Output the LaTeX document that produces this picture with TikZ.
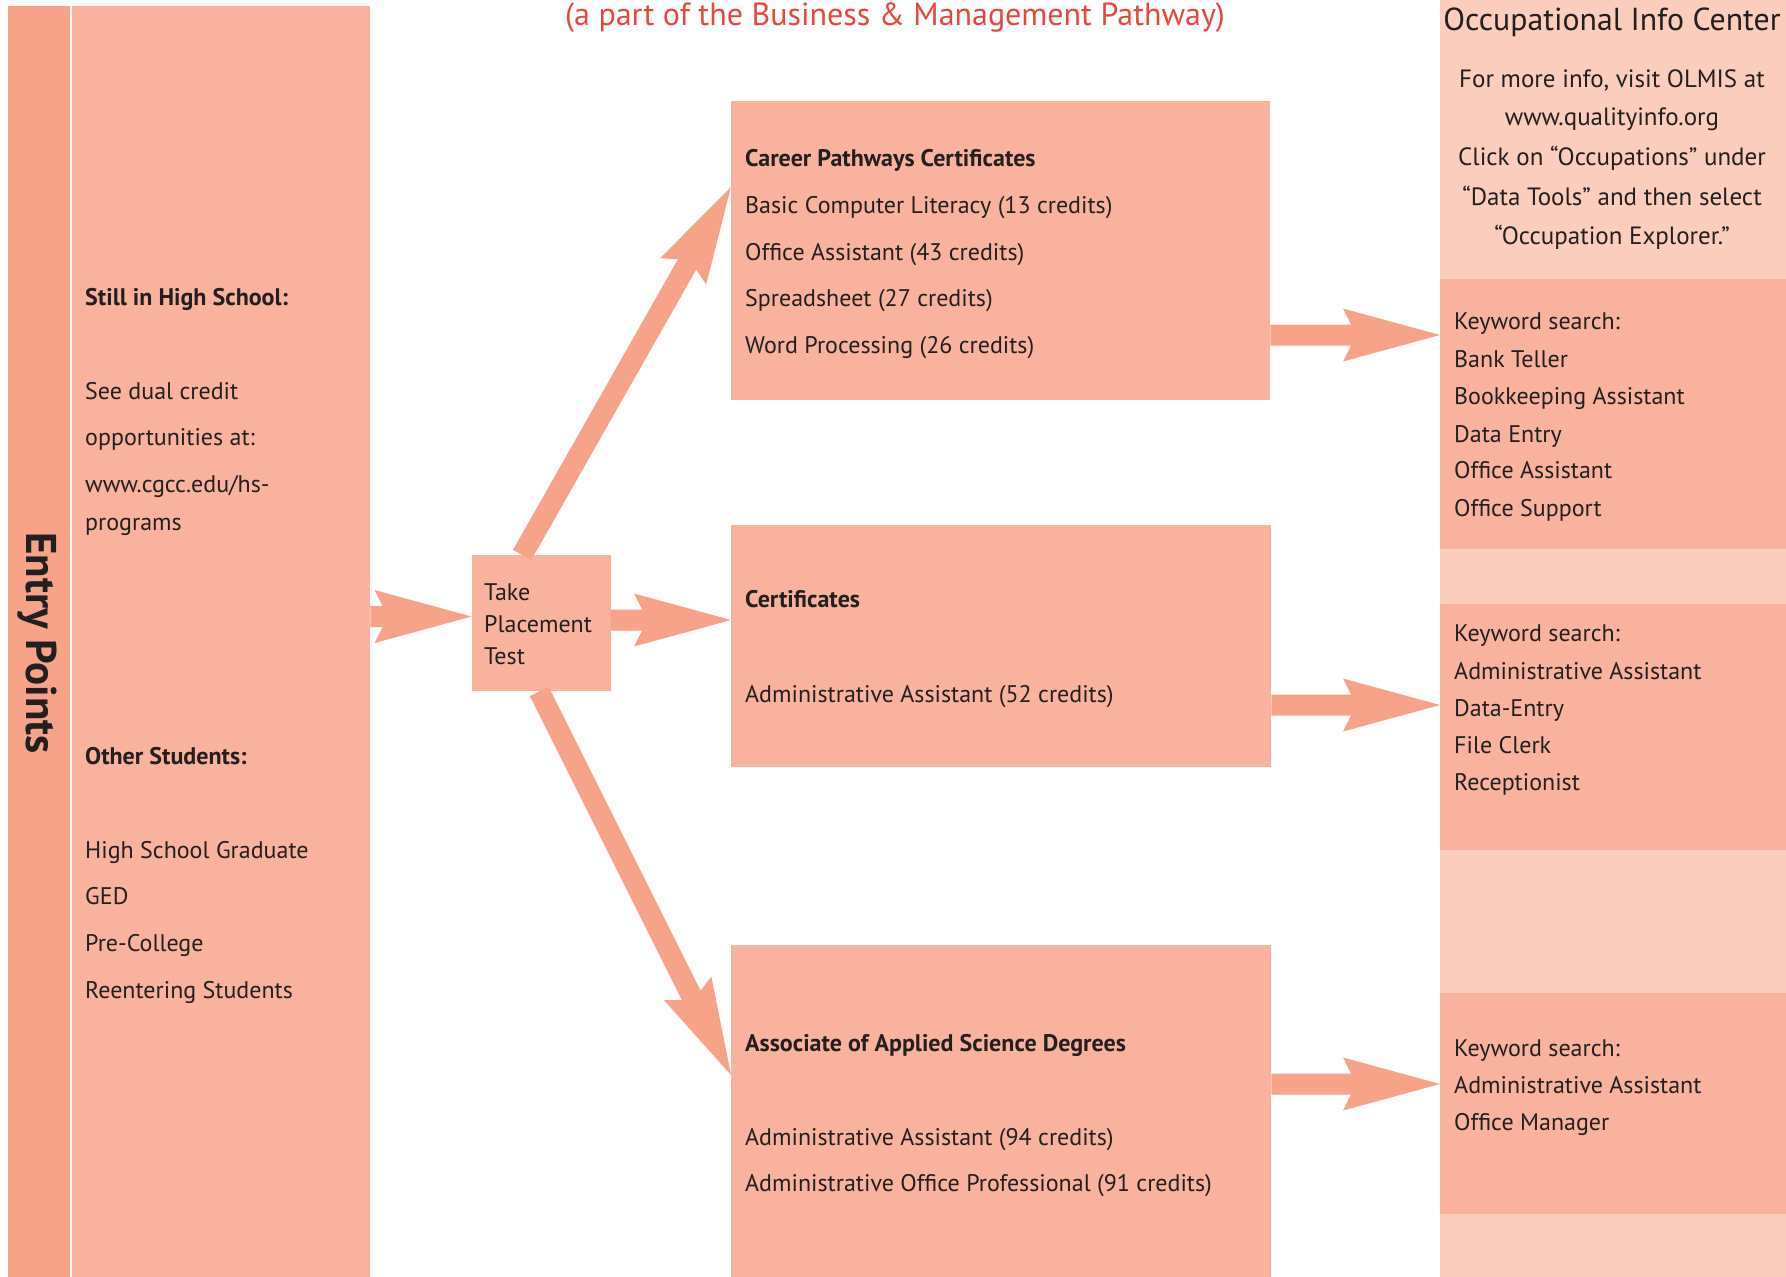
\documentclass[tikz,border=0pt]{standalone}
\usepackage{fontspec}
\setmainfont{PT Sans}
\usetikzlibrary{calc}
\definecolor{arrowc}{HTML}{F6A38A}
\definecolor{boxc}{HTML}{F8B29E}
\definecolor{lightc}{HTML}{FBCDBC}
\definecolor{redc}{HTML}{E8473C}
\definecolor{textc}{HTML}{231F20}
\newcommand\bodyf{\fontsize{24}{29}\selectfont}
\newcommand\parf{\fontsize{25}{30}\selectfont}
\newcommand\titlef{\fontsize{32}{38}\selectfont}
\newcommand\oicf{\fontsize{31.8}{36}\selectfont}
\newcommand\entryf{\fontsize{43}{50}\selectfont\bfseries}
\newcommand\fatarrow[2]{%
  \fill[arrowc] ($(#1)!10.5pt!90:(#2)$) -- ($(#2)!89pt!(#1)!10.5pt!90:(#2)$)
    -- ($(#2)!97pt!(#1)!26.5pt!90:(#2)$) -- (#2)
    -- ($(#2)!97pt!(#1)!26.5pt!-90:(#2)$) -- ($(#2)!89pt!(#1)!10.5pt!-90:(#2)$)
    -- ($(#1)!10.5pt!-90:(#2)$) -- cycle;}
\tikzset{
  panelbox/.style={fill=boxc, draw=none, inner sep=0pt, anchor=north west},
  txt/.style={anchor=base west, inner sep=0pt, text=textc, font=\bodyf},
  btxt/.style={txt, font=\bodyf\bfseries},
  ctxt/.style={anchor=base, inner sep=0pt, text=textc, font=\parf},
}
\begin{document}
\begin{tikzpicture}[x=1pt,y=-1pt]
\fill[white] (0,0) rectangle (1786,1277);
\useasboundingbox (0,0) rectangle (1786,1277);
% left column
\node[fill=arrowc, inner sep=0pt, anchor=north west, minimum width=61.5pt, minimum height=1271pt] (strip) at (8,6) {};
\node[rotate=-90, font=\entryf, text=textc, inner sep=0pt] (entry) at (37.5,643) {Entry Points};
\node[panelbox, minimum width=298pt, minimum height=1271pt] (panel) at (72,6) {};
% middle
\node[panelbox, minimum width=139pt, minimum height=136pt] (take) at (471.5,555) {};
\node[panelbox, minimum width=539pt, minimum height=299pt] (box1) at (731,101) {};
\node[panelbox, minimum width=540pt, minimum height=242pt] (box2) at (731,525) {};
\node[panelbox, minimum width=540pt, minimum height=332pt] (box3) at (731,945) {};
% right column
\node[fill=lightc, inner sep=0pt, anchor=north west, minimum width=346pt, minimum height=1277pt] (occ) at (1440,0) {};
\node[panelbox, minimum width=346pt, minimum height=270pt] (kw1) at (1440,279) {};
\node[panelbox, minimum width=346pt, minimum height=246pt] (kw2) at (1440,604) {};
\node[panelbox, minimum width=346pt, minimum height=221pt] (kw3) at (1440,993) {};
% title
\node[anchor=base, inner sep=0pt, text=redc, font=\titlef] (title) at (895,25) {(a part of the Business \& Management Pathway)};
% left panel text
\node[btxt] (t1) at (85,305) {Still in High School:};
\node[txt] (t2) at (85,399) {See dual credit};
\node[txt] (t3) at (85,445) {opportunities at:};
\node[txt] (t4) at (85,492) {www.cgcc.edu/hs-};
\node[txt] (t5) at (85,530) {programs};
\node[btxt] (t6) at (85,764) {Other Students:};
\node[txt] (t7) at (85,858) {High School Graduate};
\node[txt] (t8) at (85,904) {GED};
\node[txt] (t9) at (85,951) {Pre-College};
\node[txt] (t10) at (85,998) {Reentering Students};
% take
\node[txt] (k1) at (484,600) {Take};
\node[txt] (k2) at (484,632) {Placement};
\node[txt] (k3) at (484,664) {Test};
% box1
\node[btxt] (b11) at (745,166) {Career Pathways Certificates};
\node[txt] (b12) at (745,213) {Basic Computer Literacy (13 credits)};
\node[txt] (b13) at (745,260) {Office Assistant (43 credits)};
\node[txt] (b14) at (745,306) {Spreadsheet (27 credits)};
\node[txt] (b15) at (745,353) {Word Processing (26 credits)};
% box2
\node[btxt] (b21) at (745,607) {Certificates};
\node[txt] (b22) at (745,702) {Administrative Assistant (52 credits)};
% box3
\node[btxt] (b31) at (745,1051) {Associate of Applied Science Degrees};
\node[txt] (b32) at (745,1145) {Administrative Assistant (94 credits)};
\node[txt] (b33) at (745,1191) {Administrative Office Professional (91 credits)};
% right column text
\node[anchor=base, inner sep=0pt, text=textc, font=\oicf] (oict) at (1612,30) {Occupational Info Center};
\node[ctxt] (o1) at (1612,87) {For more info, visit OLMIS at};
\node[ctxt] (o2) at (1612,125) {www.qualityinfo.org};
\node[ctxt] (o3) at (1612,165) {Click on “Occupations” under};
\node[ctxt] (o4) at (1612,205) {“Data Tools” and then select};
\node[ctxt] (o5) at (1612,244) {“Occupation Explorer.”};
\node[txt] (w11) at (1454,329) {Keyword search:};
\node[txt] (w12) at (1454,367) {Bank Teller};
\node[txt] (w13) at (1454,404) {Bookkeeping Assistant};
\node[txt] (w14) at (1454,442) {Data Entry};
\node[txt] (w15) at (1454,478) {Office Assistant};
\node[txt] (w16) at (1454,516) {Office Support};
\node[txt] (w21) at (1454,641) {Keyword search:};
\node[txt] (w22) at (1454,679) {Administrative Assistant};
\node[txt] (w23) at (1454,716) {Data-Entry};
\node[txt] (w24) at (1454,753) {File Clerk};
\node[txt] (w25) at (1454,790) {Receptionist};
\node[txt] (w31) at (1454,1056) {Keyword search:};
\node[txt] (w32) at (1454,1093) {Administrative Assistant};
\node[txt] (w33) at (1454,1130) {Office Manager};
% arrow end points
\coordinate (a1s) at (panel.east |- 0,616.5);
\coordinate (a1e) at (take.west |- 0,616.5);
\coordinate (a2s) at (take.east |- 0,620);
\coordinate (a2e) at (box2.west |- 0,620);
\coordinate (a3s) at ($(take.north west)!0.363!(take.north east)$);
\coordinate (a3e) at (box1.west |- 0,187);
\coordinate (a4s) at ($(take.south west)!0.486!(take.south east)$);
\coordinate (a4e) at (box3.west |- 0,1075);
\coordinate (r1s) at (box1.east |- 0,335);
\coordinate (r1e) at (kw1.west |- 0,335);
\coordinate (r2s) at (box2.east |- 0,705);
\coordinate (r2e) at (kw2.west |- 0,705);
\coordinate (r3s) at (box3.east |- 0,1084);
\coordinate (r3e) at (kw3.west |- 0,1084);
\fatarrow{a1s}{a1e}
\fatarrow{a2s}{a2e}
\fatarrow{a3s}{a3e}
\fatarrow{a4s}{a4e}
\fatarrow{r1s}{r1e}
\fatarrow{r2s}{r2e}
\fatarrow{r3s}{r3e}
\end{tikzpicture}
\end{document}
